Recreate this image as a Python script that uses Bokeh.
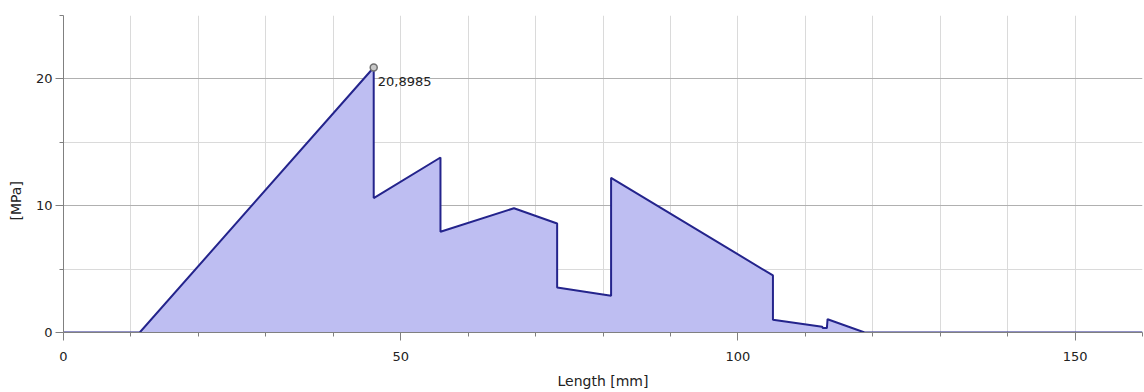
from bokeh.plotting import figure
from bokeh.models import Range1d, FixedTicker, Label, Title
from bokeh.embed import file_html
from bokeh.resources import INLINE

# data
length_mm = [0, 11.3, 46.0, 46.0, 55.9, 55.9, 66.8, 73.2, 73.2, 81.2, 81.2,
             105.2, 105.2, 112.5, 112.6, 113.2, 113.3, 118.8, 160]
stress_mpa = [0, 0, 20.8985, 10.6, 13.8, 7.95, 9.8, 8.6, 3.55, 2.9, 12.2,
              4.5, 1.0, 0.45, 0.35, 0.35, 1.05, 0, 0]
peak_x = [46.0]
peak_y = [20.8985]
peak_text = "20,8985"
x_major = [0, 50, 100, 150]
x_minor = [10, 20, 30, 40, 60, 70, 80, 90, 110, 120, 130, 140, 160]
y_major = [0, 10, 20]
y_minor = [5, 15, 25]

FONT = "DejaVu Sans"

p = figure(width=1144, height=392, output_backend="svg", toolbar_location=None,
           x_range=Range1d(0, 160), y_range=Range1d(0, 25),
           min_border_left=63, min_border_right=2, min_border_top=15,
           min_border_bottom=60)
p.outline_line_color = None
p.background_fill_color = "white"
p.border_fill_color = "white"

p.xaxis.ticker = FixedTicker(ticks=x_major, minor_ticks=x_minor)
p.yaxis.ticker = FixedTicker(ticks=y_major, minor_ticks=y_minor)

for ax in (p.xaxis, p.yaxis):
    ax.axis_line_color = "#808080"
    ax.major_tick_line_color = "#808080"
    ax.minor_tick_line_color = "#808080"
    ax.major_tick_out = 8
    ax.major_tick_in = 0
    ax.minor_tick_out = 4
    ax.minor_tick_in = 0
    ax.major_label_text_font = FONT
    ax.major_label_text_font_size = "13px"
    ax.major_label_text_color = "#222222"

p.xaxis.major_label_standoff = 11
p.yaxis.major_label_standoff = 3
p.xaxis.axis_label = "Length [mm]"
p.xaxis.axis_label_text_font = FONT
p.xaxis.axis_label_text_font_size = "14px"
p.xaxis.axis_label_text_font_style = "normal"
p.xaxis.axis_label_text_color = "#222222"
p.xaxis.axis_label_standoff = 9

p.xgrid.ticker = FixedTicker(ticks=x_major, minor_ticks=x_minor)
p.ygrid.ticker = FixedTicker(ticks=y_major, minor_ticks=y_minor)
p.xgrid.grid_line_color = "#DADADA"
p.xgrid.minor_grid_line_color = "#DADADA"
p.ygrid.grid_line_color = "#B0B0B0"
p.ygrid.minor_grid_line_color = "#DADADA"

p.varea(x=length_mm, y1=0, y2=stress_mpa, fill_color="#BEBEF2", fill_alpha=1.0)
p.line(x=length_mm, y=stress_mpa, line_color="#24248C", line_width=2)

p.scatter(x=peak_x, y=peak_y, size=7, marker="circle",
          fill_color="#C8C8C8", line_color="#707070", line_width=1.5)
p.add_layout(Label(x=peak_x[0], y=peak_y[0], text=peak_text, x_offset=4,
                   y_offset=-14, text_baseline="middle", text_align="left",
                   text_font=FONT, text_font_size="13px",
                   text_color="#222222"))

ytitle = Title(text="[MPa]", align="left", offset=112, standoff=14,
               vertical_align="top",
               text_font=FONT, text_font_size="14px",
               text_font_style="normal", text_color="#222222")
p.add_layout(ytitle, "left")

open("out.html", "w").write(file_html(p, INLINE))
